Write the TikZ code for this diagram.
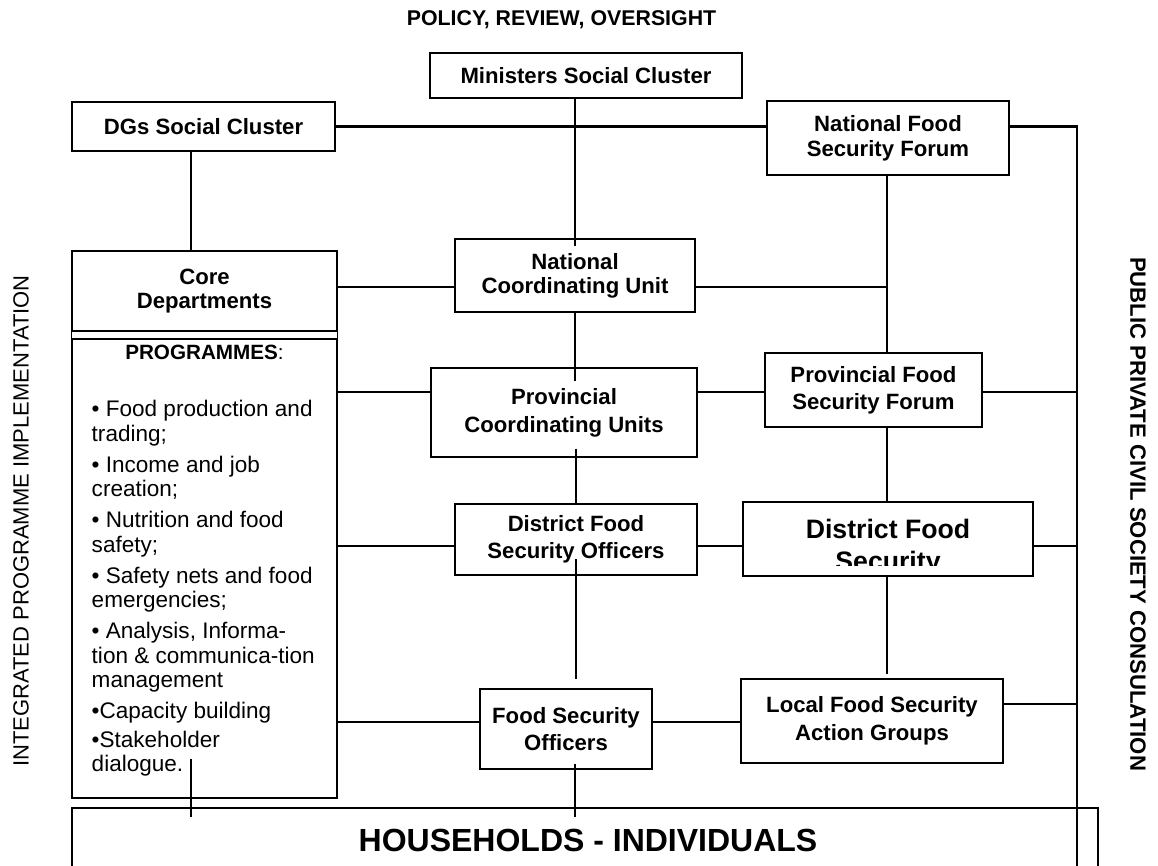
\documentclass[tikz,border=0pt]{standalone}
\usepackage{fontspec}
\setmainfont{Liberation Sans}
\usetikzlibrary{calc}
\newcommand\boxfnt{\fontsize{16.6pt}{20pt}\selectfont\bfseries}
\newcommand\listfnt{\fontsize{16.9pt}{18.4pt}\selectfont}
\begin{document}
\begin{tikzpicture}[x=0.75pt,y=-0.75pt,
  box/.style={draw, line width=0.8pt, inner sep=0pt, align=center, font=\boxfnt},
  conn/.style={line width=1.3pt},
  heavy/.style={line width=2pt},
  plain/.style={inner sep=0pt}]
\clip (0,0) rectangle (1158,865);
\fill[white] (0,0) rectangle (1158,865);

% titles
\node[plain, font=\fontsize{16pt}{19pt}\selectfont\bfseries] (title) at (561.5,20) {POLICY, REVIEW, OVERSIGHT};
\node[plain, rotate=90, font=\fontsize{16.5pt}{19pt}\selectfont] (lefttxt) at (21,521) {INTEGRATED PROGRAMME IMPLEMENTATION};
\node[plain, rotate=-90, font=\fontsize{16.6pt}{19pt}\selectfont\bfseries] (righttxt) at (1138,514) {PUBLIC PRIVATE CIVIL SOCIETY CONSULATION};

% boxes
\node[box, minimum width=234pt, minimum height=33.75pt] (min) at (586,75.5) {Ministers Social Cluster};
\node[box, minimum width=197.25pt, minimum height=36.75pt] (dgs) at (203.5,126.5) {DGs Social Cluster};
\node[box, minimum width=181.5pt, minimum height=55.5pt, font=\fontsize{16.6pt}{18.75pt}\selectfont\bfseries] (nfsf) at (888,138) {National Food\\Security Forum};
\node[box, minimum width=180pt, minimum height=54.75pt, font=\fontsize{16.6pt}{18pt}\selectfont\bfseries] (ncu) at (575,275.5) {National\\Coordinating Unit};
\node[box, minimum width=198.75pt, minimum height=60pt, font=\fontsize{16.6pt}{17.5pt}\selectfont\bfseries] (core) at (204.5,291) {Core\\Departments};
\node[box, minimum width=198.75pt, minimum height=344.25pt] (prog) at (204.5,568.5) {};
\draw[line width=0.8pt] (core.south west) -- (prog.north west) (core.south east) -- (prog.north east);
\node[box, minimum width=199.5pt, minimum height=66.75pt, font=\fontsize{16.6pt}{20.8pt}\selectfont\bfseries] (pcu) at (564,412.5) {Provincial\\Coordinating Units};
\node[box, minimum width=162.75pt, minimum height=55.5pt] (pfsf) at (873.5,390) {Provincial Food\\Security Forum};
\node[box, minimum width=181.5pt, minimum height=53.25pt, font=\fontsize{16.6pt}{20.25pt}\selectfont\bfseries] (dfso) at (576,539.5) {District Food\\Security Officers};
\node[box, minimum width=217.5pt, minimum height=55.5pt] (dfs) at (888,539) {};
\node[box, minimum width=129pt, minimum height=60pt] (fso) at (566,729) {Food Security\\Officers};
\node[box, minimum width=196.5pt, minimum height=63pt, font=\fontsize{16.6pt}{21pt}\selectfont\bfseries] (lfsag) at (872,721) {Local Food Security\\Action Groups};
\node[box, minimum width=769.5pt, minimum height=69pt] (hh) at (585,854) {};

% texts inside boxes
\node[plain, anchor=base, font=\fontsize{15.5pt}{19pt}\selectfont] (progtitle) at ($(prog.north)+(0,21.5)$) {\textbf{PROGRAMMES}:};
\node[plain, anchor=base west, font=\listfnt] (plist) at ($(prog.north west)+(20,78.3)$) {\begin{tabular}[t]{@{}l@{}}
• Food production and\\
trading;\\[4.8pt]
• Income and job\\
creation;\\[4.8pt]
• Nutrition and food\\
safety;\\[4.8pt]
• Safety nets and food\\
emergencies;\\[4.8pt]
• Analysis, Informa-\\
tion \& communica-tion\\
management\\[4.8pt]
•Capacity building\\[3pt]
•Stakeholder\\
dialogue.
\end{tabular}};
\begin{scope}
\clip (dfs.north west) rectangle ($(dfs.south east)+(0,-11)$);
\node[plain, anchor=base, font=\fontsize{20pt}{24pt}\selectfont\bfseries] (dfstext) at ($(dfs.north)+(0,37)$) {\begin{tabular}[t]{@{}c@{}}District Food\\Security\end{tabular}};
\end{scope}
\node[plain, font=\fontsize{24pt}{28pt}\selectfont\bfseries] (hhtext) at (588,840) {HOUSEHOLDS - INDIVIDUALS};

% row and bus coordinates
\coordinate (r287) at (0,287);
\coordinate (r392) at (0,392);
\coordinate (r546) at (0,546);
\coordinate (r704) at (0,704);
\coordinate (r722) at (0,722);
\coordinate (busTop) at (1077,126.5);
\coordinate (busBot) at (1077,870);

% connectors
\draw[heavy] (dgs.east) -- (dgs.east -| nfsf.west);
\draw[heavy] (nfsf.east |- busTop) -- (busTop) -- (busBot);
\draw[conn] (min.south -| ncu.north) -- ($(ncu.north)+(0,8)$);
\draw[conn] ($(dgs.south)+(-12.5,0)$) -- ($(core.north)+(-13.5,0)$);
\draw[conn] ($(nfsf.south)+(-1,0)$) -- ($(nfsf.south |- pfsf.north)+(-1,0)$);
\draw[conn] (core.east |- r287) -- (ncu.west |- r287);
\draw[conn] (ncu.east |- r287) -- ($(nfsf.south |- r287)+(-1,0)$);
\draw[conn] (ncu.south) -- ($(pcu.north -| ncu.south)+(0,14)$);
\draw[heavy] (prog.east |- r392) -- (pcu.west |- r392);
\draw[heavy] (pcu.east |- r392) -- (pfsf.west |- r392);
\draw[heavy] (pfsf.east |- r392) -- (busTop |- r392);
\draw[conn] ($(pcu.south -| dfso.north)+(0,-9)$) -- (dfso.north);
\draw[conn] ($(pfsf.south -| nfsf.south)+(-1,0)$) -- ($(dfs.north -| nfsf.south)+(-1,0)$);
\draw[conn] (prog.east |- r546) -- (dfso.west |- r546);
\draw[conn] (dfso.east |- r546) -- (dfs.west |- r546);
\draw[conn] (dfs.east |- r546) -- (busTop |- r546);
\draw[conn] ($(dfso.north)+(0,56)$) -- ($(fso.north -| dfso.north)+(0,-9)$);
\draw[conn] ($(dfs.south -| nfsf.south)+(-1,0)$) -- ($(lfsag.north -| nfsf.south)+(-1,-4)$);
\draw[conn] (prog.east |- r722) -- (fso.west |- r722);
\draw[conn] (fso.east |- r722) -- (lfsag.west |- r722);
\draw[heavy] (lfsag.east |- r704) -- (busTop |- r704);
\draw[conn] ($(prog.south)+(-13.5,-40)$) -- ($(hh.north -| prog.south)+(-13.5,10)$);
\draw[conn] ($(fso.south -| ncu.south)+(0,-6)$) -- ($(hh.north -| ncu.south)+(0,10)$);
\end{tikzpicture}
\end{document}
